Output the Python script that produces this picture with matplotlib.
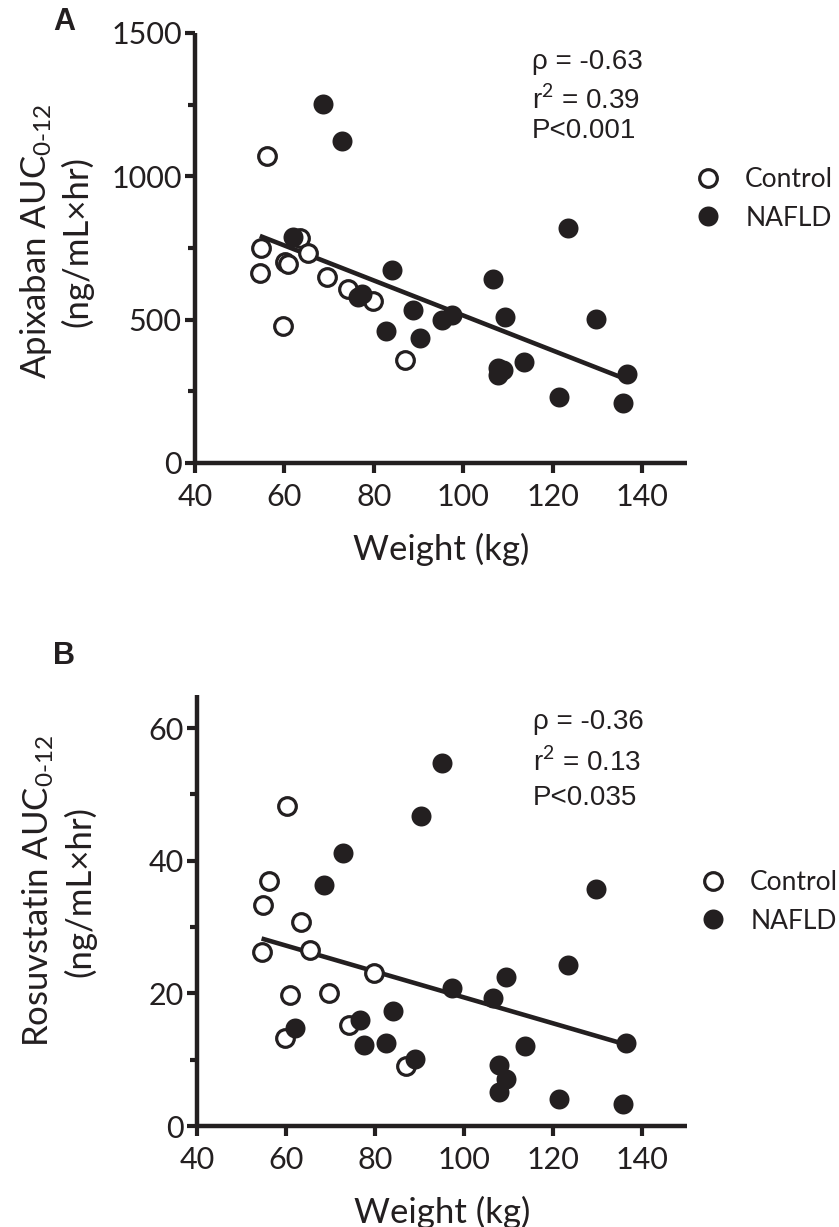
import numpy as np
import matplotlib
matplotlib.use("Agg")
import matplotlib.pyplot as plt
from matplotlib.lines import Line2D

# ---------------- data ----------------
ctrl_weight = [54.5, 54.8, 56.1, 59.7, 60.2, 60.8, 63.4, 65.3, 69.6, 74.2, 79.8, 87.0]
ctrl_apix   = [663, 750, 1071, 478, 700, 695, 785, 733, 649, 607, 565, 359]
ctrl_rosu   = [26.3, 33.4, 36.9, 13.3, 48.3, 19.8, 30.7, 26.6, 20.1, 15.3, 23.0, 9.1]

nafld_weight_a = [62.0, 68.6, 72.8, 76.5, 77.4, 82.7, 84.1, 88.8, 90.3, 95.2, 97.4,
                  106.6, 107.8, 107.8, 108.9, 109.4, 113.5, 121.4, 123.3, 129.7, 135.8, 136.6]
nafld_apix     = [788, 1252, 1123, 580, 590, 460, 673, 534, 436, 499, 516,
                  642, 331, 307, 325, 509, 352, 230, 820, 502, 209, 310]

nafld_weight_b = [61.9, 68.4, 72.7, 76.5, 77.4, 82.5, 84.1, 89.0, 90.3, 95.0, 97.3,
                  106.4, 107.8, 107.8, 109.4, 109.4, 113.6, 121.2, 123.2, 129.5, 135.7, 136.4]
nafld_rosu     = [14.8, 36.4, 41.1, 16.0, 12.2, 12.5, 17.4, 10.1, 46.8, 54.7, 20.8,
                  19.3, 9.2, 5.1, 7.1, 22.5, 12.1, 4.1, 24.3, 35.8, 3.3, 12.5]

stats_a = ["ρ = -0.63", "r$^2$ = 0.39", "P<0.001"]
stats_b = ["ρ = -0.36", "r$^2$ = 0.13", "P<0.035"]
x_ticks = [40, 60, 80, 100, 120, 140]
legend_labels = ["Control", "NAFLD"]

# ---------------- style ----------------
INK = "#231f20"
plt.rcParams["font.family"] = ["Lato", "DejaVu Sans"]
plt.rcParams["mathtext.fontset"] = "custom"
plt.rcParams["mathtext.rm"] = "Lato"
plt.rcParams["mathtext.it"] = "Lato:italic"

W, H = 839, 1227
fig = plt.figure(figsize=(W / 100, H / 100), dpi=100)

def px_axes(left, top, right, bottom):
    return fig.add_axes([left / W, 1 - bottom / H, (right - left) / W, (bottom - top) / H])

ax_a = px_axes(195, 33, 687, 463)
ax_b = px_axes(197, 695, 687, 1126)

open_kw = dict(linestyle="none", marker="o", markersize=12.7, markerfacecolor="white",
               markeredgecolor=INK, markeredgewidth=2.3)
fill_kw = dict(linestyle="none", marker="o", markersize=14.4, markerfacecolor=INK,
               markeredgecolor=INK, markeredgewidth=0)

def style_axes(ax, ylim, yticks, yminor):
    ax.set_xlim(40, 150)
    ax.set_ylim(*ylim)
    ax.set_xticks(x_ticks)
    ax.set_yticks(yticks)
    ax.set_yticks(yminor, minor=True)
    for s in ("top", "right"):
        ax.spines[s].set_visible(False)
    for s in ("left", "bottom"):
        ax.spines[s].set_linewidth(3.2)
        ax.spines[s].set_color(INK)
        ax.spines[s].set_capstyle("butt")
    ax.tick_params(axis="both", which="major", length=7.5, width=3.0, color=INK,
                   labelsize=22, labelcolor=INK)
    ax.tick_params(axis="x", which="major", pad=7)
    ax.tick_params(axis="y", which="major", pad=2)
    ax.tick_params(axis="y", which="minor", length=5, width=3.0, color=INK)
    ax.tick_params(axis="x", which="minor", length=0)
    ax.patch.set_alpha(0)

def panel(ax, cw, cy, nw, ny, ylim, yticks, yminor, ylabel, stats, stat_y, letter, letter_xy,
          ylab_y, leg_anchor):
    style_axes(ax, ylim, yticks, yminor)
    allx = np.array(cw + nw, dtype=float)
    ally = np.array(cy + ny, dtype=float)
    slope, inter = np.polyfit(allx, ally, 1)
    xs = np.array([allx.min(), allx.max()])
    ax.plot(xs, slope * xs + inter, color=INK, lw=3.3, solid_capstyle="butt", zorder=2)
    ax.plot(cw, cy, zorder=3, **open_kw)
    ax.plot(nw, ny, zorder=4, **fill_kw)
    ax.set_ylabel(ylabel, fontsize=25, color=INK, linespacing=1.25)
    ax.yaxis.label.set_va("center")
    ax.yaxis.set_label_coords(-0.283, ylab_y)
    ax.set_xlabel("Weight (kg)", fontsize=25, color=INK)
    ax.xaxis.label.set_va("center")
    ax.xaxis.set_label_coords(0.5, -0.201)
    for txt, yy in zip(stats, stat_y):
        ax.text(115.4, yy, txt, fontsize=20, color=INK, va="center", ha="left",
                family=["Liberation Sans", "DejaVu Sans"])
    fig.text(letter_xy[0] / W, 1 - letter_xy[1] / H, letter, fontsize=22, fontweight="bold",
             family=["Liberation Sans"], color=INK, ha="center", va="center")
    handles = [Line2D([], [], **open_kw), Line2D([], [], **fill_kw)]
    ax.legend(handles, legend_labels, loc="center left",
              bbox_to_anchor=(leg_anchor[0] / W, 1 - leg_anchor[1] / H),
              bbox_transform=fig.transFigure, frameon=False, borderpad=0, borderaxespad=0,
              handlelength=1.0, handletextpad=0.9, labelspacing=0.5,
              prop={"family": "Lato", "size": 19}, labelcolor=INK)

panel(ax_a, ctrl_weight, ctrl_apix, nafld_weight_a, nafld_apix,
      (0, 1500), [0, 500, 1000, 1500], [250, 750, 1250],
      "Apixaban AUC$_{\\text{0-12}}$\n(ng/mL×hr)",
      stats_a, [1399, 1266, 1158], "A", (64, 22), 0.516, (695, 199))
panel(ax_b, ctrl_weight, ctrl_rosu, nafld_weight_b, nafld_rosu,
      (0, 65), [0, 20, 40, 60], [10, 30, 50],
      "Rosuvstatin AUC$_{\\text{0-12}}$\n(ng/mL×hr)",
      stats_b, [60.9, 54.8, 49.5], "B", (64, 656), 0.545, (700, 902))

fig.savefig("out.png", dpi=100)
